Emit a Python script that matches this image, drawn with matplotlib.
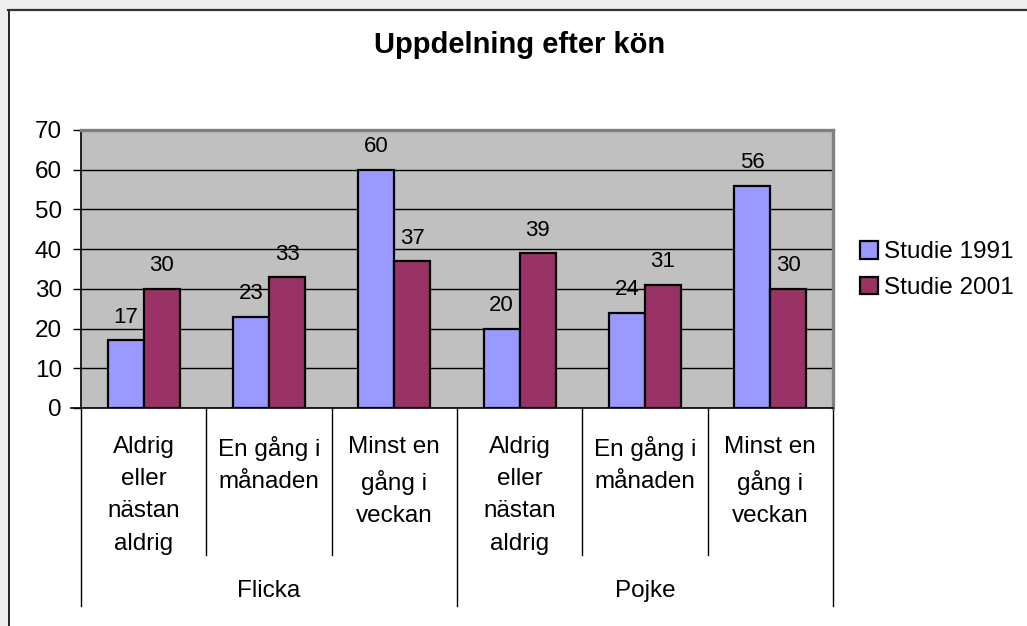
import matplotlib
matplotlib.use('Agg')
import matplotlib.pyplot as plt
from matplotlib.patches import Rectangle, Patch
from matplotlib.lines import Line2D
import numpy as np

plt.rcParams['font.family'] = ['Liberation Sans', 'DejaVu Sans']

# Data
groups = ['Flicka', 'Pojke']
frequencies = ['Aldrig\neller\nnästan\naldrig', 'En gång i\nmånaden', 'Minst en\ngång i\nveckan']
series_names = ['Studie 1991', 'Studie 2001']
study_1991 = [17, 23, 60, 20, 24, 56]
study_2001 = [30, 33, 37, 39, 31, 30]
y_ticks = [0, 10, 20, 30, 40, 50, 60, 70]
title = 'Uppdelning efter kön'

colors = ['#9999FF', '#993366']

W, H = 1027, 626
fig = plt.figure(figsize=(W / 100, H / 100), dpi=100)
fig.patch.set_facecolor('white')


def fx(px):
    return px / W


def fy(py):
    return 1 - py / H


# Outer frame of the chart area
fig.add_artist(Rectangle((0, fy(9)), 1, 1 - fy(9), transform=fig.transFigure,
                         facecolor='#EEEEEE', edgecolor='none', zorder=0))
fig.add_artist(Rectangle((0, 0), fx(8), 1, transform=fig.transFigure,
                         facecolor='#EEEEEE', edgecolor='none', zorder=0))
fig.add_artist(Line2D([fx(8.5), fx(8.5)], [0, fy(9.5)], transform=fig.transFigure,
                      color='black', lw=1.2))
fig.add_artist(Line2D([fx(8), 1], [fy(10), fy(10)], transform=fig.transFigure,
                      color='#333333', lw=1.6))

ax_top, ax_bottom, ax_left, ax_right = 130, 408, 81, 833
ax = fig.add_axes([fx(ax_left), fy(ax_bottom), fx(ax_right) - fx(ax_left), fy(ax_top) - fy(ax_bottom)])
ax.set_facecolor('#C0C0C0')

n = len(study_1991)
x = np.arange(n)
bw = 0.287

ax.bar(x - bw / 2, study_1991, bw, color=colors[0], edgecolor='black', linewidth=1.6, zorder=3)
ax.bar(x + bw / 2, study_2001, bw, color=colors[1], edgecolor='black', linewidth=1.6, zorder=3)

for xs, vals in ((x - bw / 2, study_1991), (x + bw / 2, study_2001)):
    for xi, v in zip(xs, vals):
        ax.annotate(str(v), (xi, v), xytext=(0, 16.5), textcoords='offset points',
                    ha='center', va='center', fontsize=16, zorder=4)

ax.set_xlim(-0.5, n - 0.5)
ax.set_ylim(0, 70)
ax.set_yticks(y_ticks)
ax.yaxis.grid(True, color='black', linewidth=1)
ax.set_axisbelow(True)
ax.tick_params(axis='y', direction='out', length=5.8, width=1, pad=8, labelsize=17.5, colors='black')
ax.set_xticks([])

for side in ('top', 'right'):
    ax.spines[side].set_color('#808080')
    ax.spines[side].set_linewidth(2.4)
ax.spines['left'].set_color('black')
ax.spines['left'].set_linewidth(1.2)
ax.spines['bottom'].set_color('black')
ax.spines['bottom'].set_linewidth(1.2)

# Hierarchical category axis
ph = ax_bottom - ax_top


def ay(py):
    return (ax_bottom - py) / ph


xt = ax.get_xaxis_transform()
ax.plot([-0.5 - 0.08, -0.5], [0, 0], transform=xt, color='black', lw=1.2, clip_on=False)
for b in range(n + 1):
    bx = b - 0.5
    outer = b % 3 == 0
    ax.plot([bx, bx], [0, ay(606 if outer else 555)], transform=xt,
            color='black', lw=1, clip_on=False)

for i in range(n):
    ax.text(i, ay(436), frequencies[i % 3], transform=xt, ha='center', va='top',
            fontsize=17.5, linespacing=1.6)

for g, name in enumerate(groups):
    ax.text(3 * g + 1, ay(591), name, transform=xt, ha='center', va='center', fontsize=17.5)

fig.text(fx(520), fy(53), title, ha='center', va='baseline', fontsize=21, fontweight='bold')

handles = [Patch(facecolor=c, edgecolor='black', linewidth=1.6) for c in colors]
fig.legend(handles=handles, labels=series_names, loc='center left',
           bbox_to_anchor=(fx(860), fy(270)), frameon=False, fontsize=17.5,
           handlelength=0.75, handleheight=0.75, handletextpad=0.25,
           labelspacing=0.55, borderaxespad=0, borderpad=0)

fig.savefig('out.png', dpi=100)
